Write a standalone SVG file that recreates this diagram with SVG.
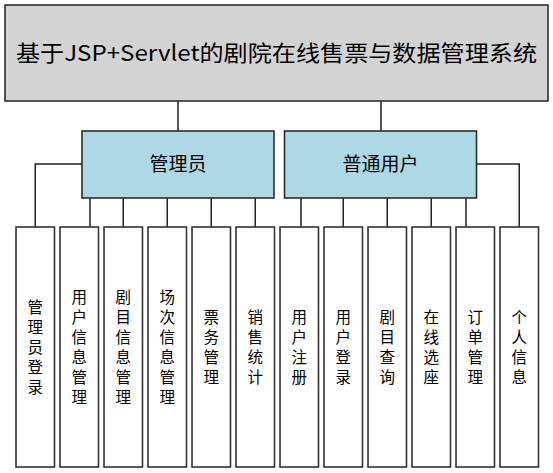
<svg xmlns="http://www.w3.org/2000/svg" width="553" height="473" viewBox="0 0 553 473">
<style>
text{font-family:"Noto Sans CJK SC","Microsoft YaHei",sans-serif;fill:#000;dominant-baseline:central;text-anchor:middle}
.top{fill:#d3d3d3;stroke:#222;stroke-width:1.5}
.mid{fill:#add8e6;stroke:#222;stroke-width:1.5}
.leaf{fill:#fff;stroke:#333;stroke-width:1.6}
.conn{fill:none;stroke:#222;stroke-width:1.5}
.t1{font-size:22px}
.t2{font-size:19px}
.t3{font-size:15.5px}
</style>
<rect width="553" height="473" fill="#fff"/>
<g id="connectors" class="conn">
<path d="M178 101V131M381 101V131"/>
<path d="M82 164H35.25V227"/>
<path d="M90 198V227M123.25 198V227M167.25 198V227M211.25 198V227M255.25 198V227"/>
<path d="M301 198V227M343.25 198V227M387.25 198V227M431.25 198V227M466 198V227"/>
<path d="M476.5 164H519.25V227"/>
</g>
<g id="root"><rect class="top" x="5" y="5" width="543" height="96"/><text class="t1" x="276.5" y="51" textLength="521" lengthAdjust="spacingAndGlyphs">基于JSP+Servlet的剧院在线售票与数据管理系统</text></g>
<g id="admin"><rect class="mid" x="82" y="131" width="192" height="67"/><text class="t2" x="178" y="162">管理员</text></g>
<g id="user"><rect class="mid" x="284.5" y="131" width="192" height="67"/><text class="t2" x="380.5" y="162">普通用户</text></g>
<g id="n1"><rect class="leaf" x="16" y="227" width="38.5" height="240"/><text class="t3" x="35.25"><tspan x="35.25" y="306">管</tspan><tspan x="35.25" y="326">理</tspan><tspan x="35.25" y="346">员</tspan><tspan x="35.25" y="366">登</tspan><tspan x="35.25" y="386">录</tspan></text></g>
<g id="n2"><rect class="leaf" x="60" y="227" width="38.5" height="240"/><text class="t3"><tspan x="79.25" y="296">用</tspan><tspan x="79.25" y="316">户</tspan><tspan x="79.25" y="336">信</tspan><tspan x="79.25" y="356">息</tspan><tspan x="79.25" y="376">管</tspan><tspan x="79.25" y="396">理</tspan></text></g>
<g id="n3"><rect class="leaf" x="104" y="227" width="38.5" height="240"/><text class="t3"><tspan x="123.25" y="296">剧</tspan><tspan x="123.25" y="316">目</tspan><tspan x="123.25" y="336">信</tspan><tspan x="123.25" y="356">息</tspan><tspan x="123.25" y="376">管</tspan><tspan x="123.25" y="396">理</tspan></text></g>
<g id="n4"><rect class="leaf" x="148" y="227" width="38.5" height="240"/><text class="t3"><tspan x="167.25" y="296">场</tspan><tspan x="167.25" y="316">次</tspan><tspan x="167.25" y="336">信</tspan><tspan x="167.25" y="356">息</tspan><tspan x="167.25" y="376">管</tspan><tspan x="167.25" y="396">理</tspan></text></g>
<g id="n5"><rect class="leaf" x="192" y="227" width="38.5" height="240"/><text class="t3"><tspan x="211.25" y="316">票</tspan><tspan x="211.25" y="336">务</tspan><tspan x="211.25" y="356">管</tspan><tspan x="211.25" y="376">理</tspan></text></g>
<g id="n6"><rect class="leaf" x="236" y="227" width="38.5" height="240"/><text class="t3"><tspan x="255.25" y="316">销</tspan><tspan x="255.25" y="336">售</tspan><tspan x="255.25" y="356">统</tspan><tspan x="255.25" y="376">计</tspan></text></g>
<g id="n7"><rect class="leaf" x="280" y="227" width="38.5" height="240"/><text class="t3"><tspan x="299.25" y="316">用</tspan><tspan x="299.25" y="336">户</tspan><tspan x="299.25" y="356">注</tspan><tspan x="299.25" y="376">册</tspan></text></g>
<g id="n8"><rect class="leaf" x="324" y="227" width="38.5" height="240"/><text class="t3"><tspan x="343.25" y="316">用</tspan><tspan x="343.25" y="336">户</tspan><tspan x="343.25" y="356">登</tspan><tspan x="343.25" y="376">录</tspan></text></g>
<g id="n9"><rect class="leaf" x="368" y="227" width="38.5" height="240"/><text class="t3"><tspan x="387.25" y="316">剧</tspan><tspan x="387.25" y="336">目</tspan><tspan x="387.25" y="356">查</tspan><tspan x="387.25" y="376">询</tspan></text></g>
<g id="n10"><rect class="leaf" x="412" y="227" width="38.5" height="240"/><text class="t3"><tspan x="431.25" y="316">在</tspan><tspan x="431.25" y="336">线</tspan><tspan x="431.25" y="356">选</tspan><tspan x="431.25" y="376">座</tspan></text></g>
<g id="n11"><rect class="leaf" x="456" y="227" width="38.5" height="240"/><text class="t3"><tspan x="475.25" y="316">订</tspan><tspan x="475.25" y="336">单</tspan><tspan x="475.25" y="356">管</tspan><tspan x="475.25" y="376">理</tspan></text></g>
<g id="n12"><rect class="leaf" x="500" y="227" width="38.5" height="240"/><text class="t3"><tspan x="519.25" y="316">个</tspan><tspan x="519.25" y="336">人</tspan><tspan x="519.25" y="356">信</tspan><tspan x="519.25" y="376">息</tspan></text></g>
</svg>
